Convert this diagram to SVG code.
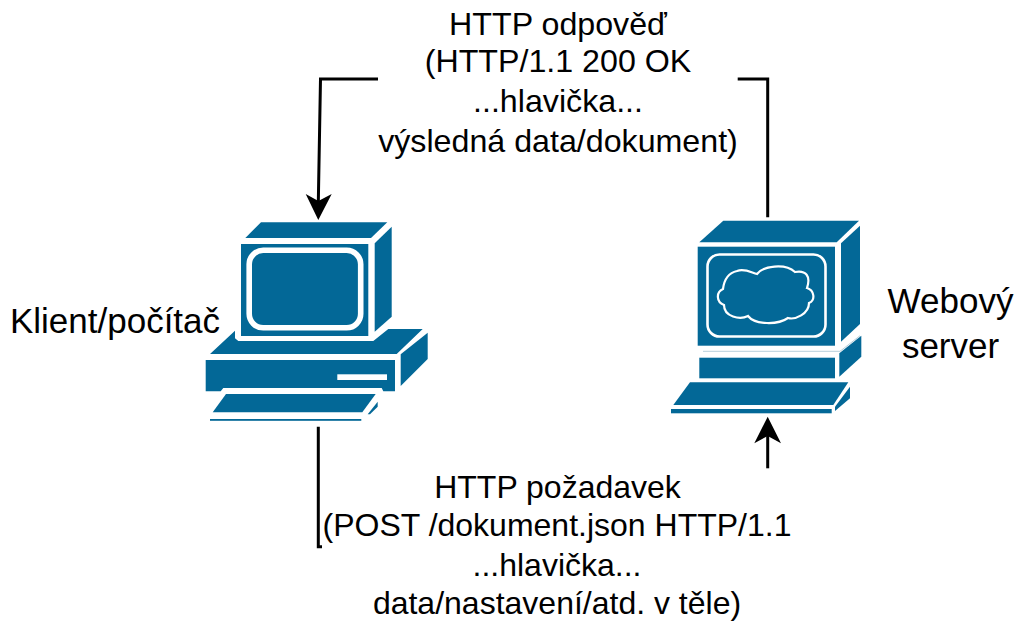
<svg xmlns="http://www.w3.org/2000/svg" width="1019" height="623" viewBox="0 0 1019 623">
<style>
.b{fill:#036897}
.w{fill:none;stroke:#fff}
.c{fill:none;stroke:#000;stroke-width:3;stroke-miterlimit:10}
.h{fill:#000;stroke:none}
text{font-family:"Liberation Sans",Arial,sans-serif;font-size:32.2px;fill:#000;text-anchor:middle}
.l{font-size:35px}
.s{font-size:32px}
</style>
<rect width="1019" height="623" fill="#fff"/>
<g id="client">
<polygon class="b" points="245.3,238 261,222.3 387.3,222.3 371,238"/>
<rect class="b" x="241" y="244" width="127.3" height="92"/>
<rect class="w" x="249.2" y="250.3" width="111.5" height="77.5" rx="14" stroke-width="5.6"/>
<polygon class="b" points="374.7,243.3 391.7,226.7 391.7,316.7 374.7,331.7"/>
<polygon class="b" points="210,354 235,330.7 235,338.3 238.3,341 373.3,341 388.3,329 422.7,329 396.7,354"/>
<polygon class="b" points="205.7,360 395,360 395,391.3 383.3,391.3 381.7,388 223.3,388 220.7,391.3 205.7,391.3"/>
<rect x="337.3" y="374.3" width="49.7" height="5.7" fill="#fff"/>
<polygon class="b" points="400.7,354.3 427.7,332.7 427.7,359 400.7,386"/>
<polygon class="b" points="212.7,412.3 226,394 375.7,394 362.3,412.3"/>
<rect class="b" x="210" y="419" width="151.3" height="1.8"/>
<polygon class="b" points="367.7,414.3 377.7,401.7 377.7,406.7 370,414.3"/>
</g>
<g id="server">
<polygon class="b" points="699.3,242.3 723.3,220.7 859,220.7 836.7,242.3"/>
<rect class="b" x="697.7" y="246.7" width="137.3" height="99"/>
<rect class="w" x="707.5" y="254.5" width="118" height="82" rx="12" stroke-width="2.6"/>
<path class="w" stroke-width="2.2" d="M737 271C745 268 752 273 757 274C763 266 785 263 795 272C806 270 811 276 807 288C814 290 816 300 809 303C809 314 795 320 788 318C778 325 755 325 748 316C740 320 724 317 724 305C716 302 716 292 723 289C724 281 728 273 737 271Z"/>
<polygon class="b" points="841,243.3 860,225.7 860,324 841,341.7"/>
<rect class="b" x="699.3" y="357.7" width="135.7" height="20.6"/>
<polygon class="b" points="839.3,353.3 861.3,335.7 861.3,356.7 839.3,376.7"/>
<path d="M703 351.3H840L860 335.7" fill="none" stroke="#b7cfdb" stroke-width="1"/>
<polygon class="b" points="673.3,405 690,382.3 848.3,382.3 833.3,405"/>
<rect class="b" x="671" y="409" width="160.7" height="4.3"/>
<polygon class="b" points="835,406.7 850,386.7 850,398.3 835,411"/>
</g>
<g id="connectors">
<path class="c" d="M378 79H320.5L318.3 203"/>
<polygon class="h" points="318.3,220 305.7,194 318.4,201 331.7,194"/>
<path class="c" d="M737.7 79H767.7V217.3"/>
<path class="c" d="M318.3 426.7V546.7H322"/>
<path class="c" d="M767.7 468.3V436"/>
<polygon class="h" points="767.7,416.7 781,443.3 767.7,436 754.3,443.3"/>
</g>
<g id="labels">
<text x="558" y="35">HTTP odpověď</text>
<text x="558" y="72">(HTTP/1.1 200 OK</text>
<text x="558" y="112">...hlavička...</text>
<text x="558" y="152">výsledná data/dokument)</text>
<text class="l" x="115" y="333">Klient/počítač</text>
<text class="l" x="950.5" y="313">Webový</text>
<text class="l" x="950.5" y="358">server</text>
<text class="s" x="557.5" y="498">HTTP požadavek</text>
<text class="s" x="557" y="536">(POST /dokument.json HTTP/1.1</text>
<text class="s" x="557" y="576">...hlavička...</text>
<text class="s" x="557" y="614">data/nastavení/atd. v těle)</text>
</g>
</svg>
